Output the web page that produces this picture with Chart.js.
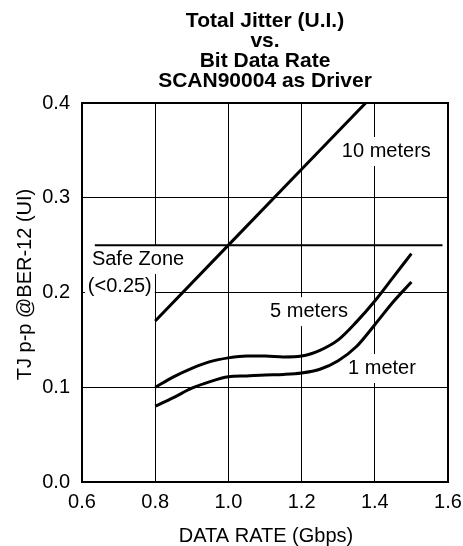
<!DOCTYPE html>
<html>
<head>
<meta charset="utf-8">
<script src="https://cdn.jsdelivr.net/npm/chart.js@4/dist/chart.umd.min.js"></script>
<style>
  html, body { margin: 0; padding: 0; background: #fff; }
  #wrap { width: 463px; height: 546px; }
</style>
</head>
<body>
<div id="wrap"><canvas id="c" width="463" height="546"></canvas></div>
<script>
// ---- data ----
const titleLines = ["Total Jitter (U.I.)", "vs.", "Bit Data Rate", "SCAN90004 as Driver"];
const xAxisTitle = "DATA RATE (Gbps)";
const yAxisTitle = "TJ p-p @BER-12 (UI)";

const xTen = [0.8, 1.0, 1.2, 1.375];
const yTen = [0.17, 0.25, 0.33, 0.40];

const xCurve = [0.8, 0.85, 0.9, 0.95, 1.0, 1.05, 1.1, 1.15, 1.2, 1.25, 1.3, 1.35, 1.4, 1.45, 1.5];
const yFive = [0.100, 0.111, 0.120, 0.127, 0.131, 0.133, 0.133, 0.132, 0.133, 0.139, 0.150, 0.169, 0.191, 0.216, 0.241];
const yOne  = [0.080, 0.089, 0.099, 0.106, 0.111, 0.112, 0.113, 0.1135, 0.115, 0.119, 0.128, 0.143, 0.166, 0.190, 0.211];

const xSafe = [0.635, 1.585];
const ySafe = [0.25, 0.25];

const xTicks = [0.6, 0.8, 1.0, 1.2, 1.4, 1.6];
const yTicks = [0.0, 0.1, 0.2, 0.3, 0.4];

const labelTexts = ["10 meters", "5 meters", "1 meter", "Safe Zone", "(<0.25)"];
const labelX = [1.310, 1.114, 1.327, 0.627, 0.616];
const labelY = [0.343, 0.174, 0.114, 0.229, 0.2005];

// ---- helpers ----
const FONT = "'Liberation Sans', Arial, sans-serif";
function pts(xs, ys) { return xs.map((x, i) => ({ x: x, y: ys[i] })); }

const labelsPlugin = {
  id: 'labelsPlugin',
  beforeDatasetsDraw(chart) {
    const ctx = chart.ctx, xs = chart.scales.x, ys = chart.scales.y;
    ctx.save();
    ctx.font = "20px " + FONT;
    ctx.textAlign = 'left';
    ctx.textBaseline = 'alphabetic';
    labelTexts.forEach((t, i) => {
      const px = xs.getPixelForValue(labelX[i]);
      const py = ys.getPixelForValue(labelY[i]);
      const w = ctx.measureText(t).width;
      ctx.fillStyle = '#fff';
      ctx.fillRect(px - 3, py - 20, w + 6, 29);
    });
    ctx.fillStyle = '#000';
    labelTexts.forEach((t, i) => {
      const px = xs.getPixelForValue(labelX[i]);
      const py = ys.getPixelForValue(labelY[i]);
      ctx.fillText(t, px, py);
    });
    ctx.restore();
  },
  afterDatasetsDraw(chart) {
    const ctx = chart.ctx, a = chart.chartArea;
    ctx.save();
    ctx.strokeStyle = '#000';
    ctx.lineWidth = 2;
    ctx.strokeRect(a.left, a.top, a.right - a.left, a.bottom - a.top);
    ctx.restore();
  },
  afterDraw(chart) {
    const ctx = chart.ctx, a = chart.chartArea;
    const cx = (a.left + a.right) / 2;
    ctx.save();
    ctx.fillStyle = '#000';
    ctx.textAlign = 'center';
    ctx.textBaseline = 'alphabetic';
    ctx.font = "bold 21px " + FONT;
    titleLines.forEach((t, i) => ctx.fillText(t, cx, 27 + i * 20));
    ctx.font = "20px " + FONT;
    ctx.fillText(xAxisTitle, cx + 1, 542);
    ctx.translate(31, (a.top + a.bottom) / 2 - 8);
    ctx.rotate(-Math.PI / 2);
    ctx.fillText(yAxisTitle, 0, 0);
    ctx.restore();
  }
};

const lineStyle = {
  borderColor: '#000',
  backgroundColor: '#000',
  borderWidth: 3,
  pointRadius: 0,
  fill: false
};

new Chart(document.getElementById('c'), {
  type: 'line',
  data: {
    datasets: [
      Object.assign({ label: '10 meters', data: pts(xTen, yTen), tension: 0 }, lineStyle),
      Object.assign({ label: '5 meters', data: pts(xCurve, yFive), cubicInterpolationMode: 'monotone' }, lineStyle),
      Object.assign({ label: '1 meter', data: pts(xCurve, yOne), cubicInterpolationMode: 'monotone' }, lineStyle),
      Object.assign({}, lineStyle, { label: 'Safe Zone', data: pts(xSafe, ySafe), borderWidth: 2 })
    ]
  },
  options: {
    responsive: false,
    animation: false,
    devicePixelRatio: 1,
    layout: { padding: { top: 103, right: 15, left: 0, bottom: 0 } },
    plugins: { legend: { display: false }, title: { display: false }, tooltip: { enabled: false } },
    scales: {
      x: {
        type: 'linear',
        min: 0.6, max: 1.6,
        afterBuildTicks: s => { s.ticks = xTicks.map(v => ({ value: v })); },
        afterFit: s => { s.height = 64; s.paddingRight = 0; s.paddingLeft = 0; },
        ticks: {
          color: '#000', font: { family: FONT, size: 20 }, padding: 8,
          maxRotation: 0, autoSkip: false,
          callback: v => Number(v).toFixed(1)
        },
        grid: { color: '#000', lineWidth: 1, drawTicks: false },
        border: { display: true, color: '#000', width: 2 }
      },
      y: {
        type: 'linear',
        min: 0, max: 0.4,
        afterBuildTicks: s => { s.ticks = yTicks.map(v => ({ value: v })); },
        afterFit: s => { s.width = 82; },
        ticks: {
          color: '#000', font: { family: FONT, size: 20 }, padding: 12,
          autoSkip: false,
          callback: v => Number(v).toFixed(1)
        },
        grid: { color: '#000', lineWidth: 1, drawTicks: false },
        border: { display: true, color: '#000', width: 2 }
      }
    }
  },
  plugins: [labelsPlugin]
});
</script>
</body>
</html>
